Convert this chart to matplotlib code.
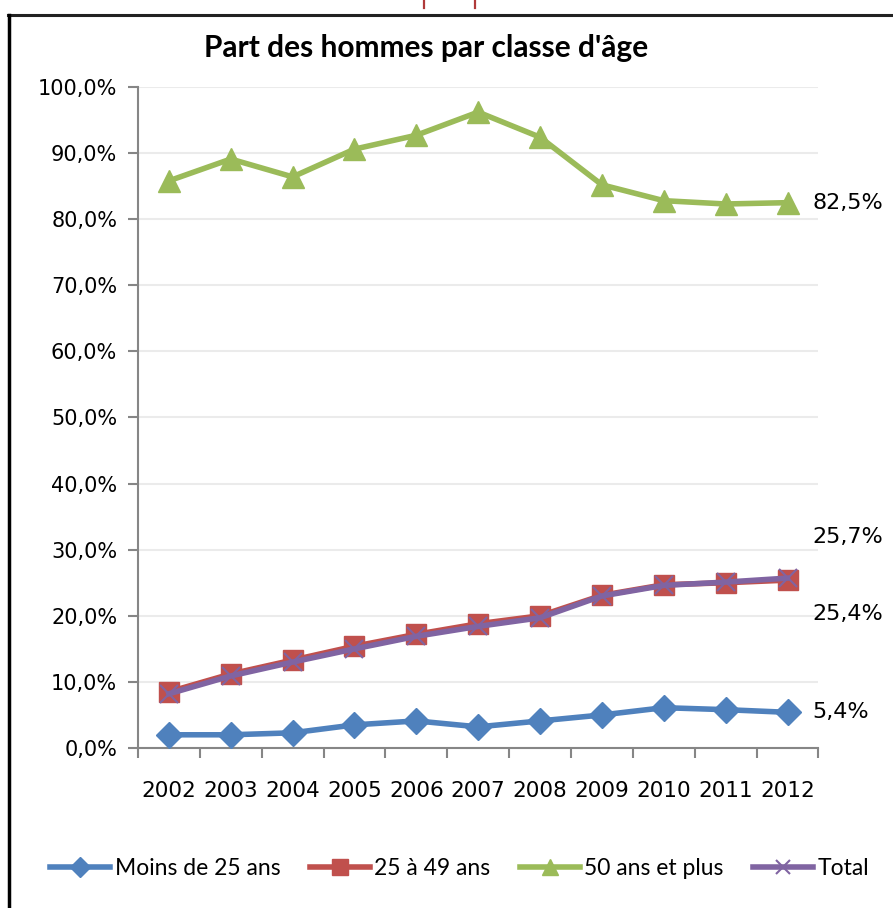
import matplotlib
matplotlib.use("Agg")
import matplotlib.pyplot as plt
from matplotlib.lines import Line2D
from matplotlib.ticker import FuncFormatter

YEARS = ["2002", "2003", "2004", "2005", "2006", "2007",
         "2008", "2009", "2010", "2011", "2012"]

MOINS_25 = [2.0, 2.0, 2.3, 3.5, 4.1, 3.2, 4.1, 5.0, 6.1, 5.8, 5.4]
DE_25_49 = [8.5, 11.2, 13.3, 15.4, 17.2, 18.8, 20.0, 23.1, 24.7, 25.0, 25.4]
PLUS_50 = [85.8, 89.1, 86.4, 90.6, 92.7, 96.2, 92.4, 85.2, 82.8, 82.3, 82.5]
TOTAL = [8.2, 10.9, 13.0, 15.0, 16.9, 18.4, 19.7, 23.0, 24.6, 25.1, 25.7]

SERIES = [
    ("Moins de 25 ans", MOINS_25, "#4f81bd", "D", 13),
    ("25 à 49 ans", DE_25_49, "#c0504d", "s", 15),
    ("50 ans et plus", PLUS_50, "#9bbb59", "^", 16),
    ("Total", TOTAL, "#8064a2", "x", 13),
]

NARROW = "Lato"

fig = plt.figure(figsize=(8.93, 9.08), dpi=100)
ax = fig.add_axes([0.1545, 0.1762, 0.762, 0.728])

x = range(len(YEARS))
handles = []
for label, vals, color, marker, ms in SERIES:
    if marker == "x":
        h, = ax.plot(x, vals, color=color, lw=4, marker=marker, ms=ms,
                     mew=1.5, label=label, zorder=4)
    else:
        h, = ax.plot(x, vals, color=color, lw=4, marker=marker, ms=ms,
                     mec=color, label=label, zorder=3)
    handles.append(h)

ax.set_xlim(-0.5, len(YEARS) - 0.5)
ax.set_ylim(0, 100)
ax.set_yticks(range(0, 101, 10))
ax.yaxis.set_major_formatter(FuncFormatter(lambda v, p: f"{v:.1f}%".replace(".", ",")))
ax.set_xticks(list(x))
ax.set_xticklabels(YEARS)
ax.set_xticks([i - 0.5 for i in range(len(YEARS) + 1)], minor=True)
ax.tick_params(axis="x", which="major", length=0, pad=24, labelsize=15.5)
ax.tick_params(axis="x", which="minor", length=7, width=1.5, color="#868686")
ax.tick_params(axis="y", length=7, width=1.5, color="#868686", labelsize=15, pad=8)
ax.grid(axis="y", color="#ebebeb", lw=1.5)
ax.set_axisbelow(True)
for s in ["top", "right"]:
    ax.spines[s].set_visible(False)
for s in ["left", "bottom"]:
    ax.spines[s].set_color("#868686")
    ax.spines[s].set_linewidth(1.5)

# end-of-line labels
last = len(YEARS) - 1
for vals, dy in [(PLUS_50, 0), (TOTAL, 6.2), (DE_25_49, -5.2), (MOINS_25, 0)]:
    ax.annotate(f"{vals[-1]:.1f}%".replace(".", ","), (last, vals[-1] + dy),
                xytext=(18, 0), textcoords="offset points",
                va="center", ha="left", fontsize=16, annotation_clip=False)

fig.text(0.477, 0.947, "Part des hommes par classe d'âge", ha="center",
         va="center", fontsize=21.5, fontweight="bold", family=NARROW)

fig.legend(handles=handles, loc="center", bbox_to_anchor=(0.515, 0.044),
           ncol=4, frameon=False, prop={"family": NARROW, "size": 16.5},
           handlelength=2.6, columnspacing=1.3, handletextpad=0.2,
           markerscale=0.75)

# frame of the pasted chart and red bits from above
fig.add_artist(Line2D([0.009, 1.0], [0.983, 0.983], color="#222222", lw=2.2))
fig.add_artist(Line2D([0.010, 0.010], [0.0, 0.983], color="#000000", lw=2.5))
for xr in [0.475, 0.532]:
    fig.add_artist(Line2D([xr, xr], [0.991, 1.0], color="#b03a3a", lw=1.6))

fig.savefig("out.png", dpi=100)
